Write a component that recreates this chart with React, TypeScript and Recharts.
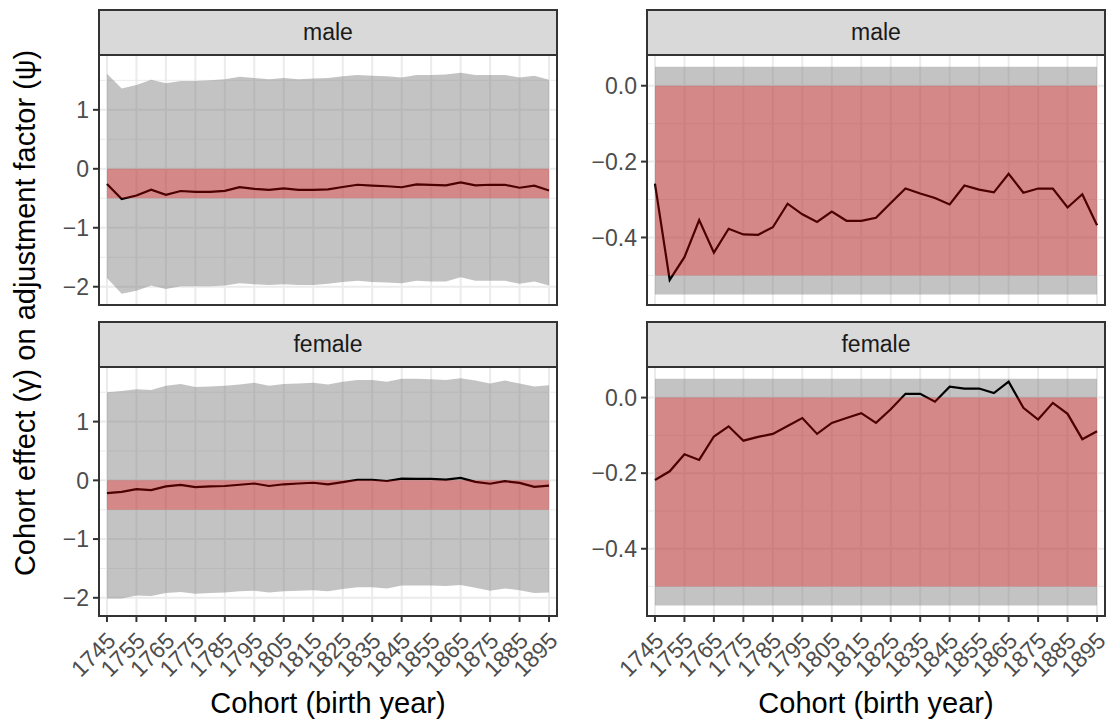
import { ComposedChart, Area, Line, XAxis, YAxis, CartesianGrid } from 'recharts'

const FONT = '"Liberation Sans", Arial, Helvetica, sans-serif'

// cohort birth years (every 5 years)
const cohorts = [
  1745, 1750, 1755, 1760, 1765, 1770, 1775, 1780, 1785, 1790, 1795,
  1800, 1805, 1810, 1815, 1820, 1825, 1830, 1835, 1840, 1845, 1850,
  1855, 1860, 1865, 1870, 1875, 1880, 1885, 1890, 1895,
]

const maleEffect = [
  -0.258, -0.512, -0.452, -0.354, -0.44, -0.377, -0.392, -0.393, -0.373, -0.311, -0.339,
  -0.359, -0.332, -0.356, -0.356, -0.348, -0.309, -0.271, -0.284, -0.296, -0.313, -0.263,
  -0.274, -0.281, -0.232, -0.282, -0.271, -0.271, -0.321, -0.286, -0.368,
]
const maleUpper = [
  1.61, 1.36, 1.42, 1.51, 1.45, 1.49, 1.49, 1.5, 1.52, 1.56, 1.54,
  1.52, 1.54, 1.52, 1.53, 1.54, 1.57, 1.59, 1.58, 1.57, 1.55, 1.59,
  1.59, 1.6, 1.63, 1.59, 1.59, 1.59, 1.55, 1.58, 1.51,
]
const maleLower = [
  -1.85, -2.12, -2.07, -1.98, -2.04, -1.99, -1.99, -1.99, -1.98, -1.94, -1.96,
  -1.97, -1.96, -1.97, -1.97, -1.95, -1.92, -1.9, -1.92, -1.93, -1.94, -1.9,
  -1.91, -1.91, -1.84, -1.9, -1.9, -1.9, -1.95, -1.91, -1.98,
]

const femaleEffect = [
  -0.218, -0.195, -0.15, -0.165, -0.103, -0.076, -0.114, -0.104, -0.096, -0.075, -0.054,
  -0.096, -0.067, -0.054, -0.041, -0.067, -0.031, 0.01, 0.01, -0.011, 0.029, 0.024,
  0.024, 0.012, 0.042, -0.027, -0.058, -0.014, -0.043, -0.11, -0.089,
]
const femaleUpper = [
  1.5, 1.52, 1.55, 1.54, 1.61, 1.64, 1.59, 1.6, 1.61, 1.63, 1.66,
  1.61, 1.64, 1.65, 1.66, 1.63, 1.68, 1.71, 1.71, 1.68, 1.73, 1.73,
  1.72, 1.71, 1.74, 1.7, 1.65, 1.7, 1.65, 1.6, 1.62,
]
const femaleLower = [
  -2.01, -2.01, -1.96, -1.97, -1.92, -1.9, -1.93, -1.92, -1.91, -1.89, -1.88,
  -1.91, -1.89, -1.88, -1.87, -1.89, -1.85, -1.82, -1.82, -1.84, -1.79, -1.79,
  -1.79, -1.8, -1.78, -1.83, -1.88, -1.84, -1.87, -1.92, -1.91,
]

// constant bands
const redBand = [-0.5, 0]
const greyBand = [-0.55, 0.05]

// axes
const xTicks = [1745, 1755, 1765, 1775, 1785, 1795, 1805, 1815, 1825, 1835, 1845, 1855, 1865, 1875, 1885, 1895]
const xDomain = [1742.3, 1897.7]
const wideTicks = [-2, -1, 0, 1]
const wideMinor = [-1.5, -0.5, 0.5, 1.5]
const wideDomain = [-2.31, 1.93]
const zoomTicks = [-0.4, -0.2, 0]
const zoomMinor = [-0.5, -0.3, -0.1]
const zoomDomain = [-0.578, 0.081]

const makeRows = (eff: number[], lo: number[], hi: number[], wide: boolean) =>
  cohorts.map((c, i) => ({
    cohort: c,
    effect: eff[i],
    grey: wide ? [lo[i], hi[i]] : greyBand,
    red: redBand,
  }))

const minus = (s: string) => s.replace('-', '\u2212')

function YearTick({ x, y, payload }: any) {
  return (
    <text
      x={x}
      y={y}
      dy="0.62em"
      transform={`rotate(-45, ${x}, ${y})`}
      textAnchor="end"
      fill="#4D4D4D"
      fontSize={23}
      fontFamily={FONT}
    >
      {payload.value}
    </text>
  )
}

interface PanelProps {
  label: string
  plotLeft: number
  plotTop: number
  plotW: number
  plotH: number
  axisW: number
  rows: any[]
  wide: boolean
  showX: boolean
}

const RIGHT_PAD = 20

function Panel({ label, plotLeft, plotTop, plotW, plotH, axisW, rows, wide, showX }: PanelProps) {
  const xH = showX ? 95 : 0
  const chartW = axisW + plotW + RIGHT_PAD
  const chartH = plotH + xH
  const ticks = wide ? wideTicks : zoomTicks
  const minor = wide ? wideMinor : zoomMinor
  const domain = wide ? wideDomain : zoomDomain
  const fmt = (v: number) => minus(wide ? String(v) : v.toFixed(1))

  return (
    <>
      <div style={{ position: 'absolute', left: plotLeft - axisW, top: plotTop }}>
        <ComposedChart
          width={chartW}
          height={chartH}
          data={rows}
          margin={{ top: 0, right: RIGHT_PAD, bottom: 0, left: 0 }}
        >
          <CartesianGrid horizontalValues={minor} vertical={false} stroke="#EBEBEB" strokeWidth={1} />
          <CartesianGrid horizontalValues={ticks} verticalValues={xTicks} stroke="#EBEBEB" strokeWidth={2} />
          <XAxis
            dataKey="cohort"
            type="number"
            domain={xDomain}
            ticks={xTicks}
            allowDataOverflow
            hide={!showX}
            height={xH}
            axisLine={false}
            tickLine={{ stroke: '#333333', strokeWidth: 2 }}
            tickSize={6}
            tickMargin={10}
            interval={0}
            tick={<YearTick />}
          />
          <YAxis
            type="number"
            domain={domain}
            ticks={ticks}
            allowDataOverflow
            width={axisW}
            axisLine={false}
            tickLine={{ stroke: '#333333', strokeWidth: 2 }}
            tickSize={6}
            tickMargin={4}
            tickFormatter={fmt}
            tick={{ fill: '#4D4D4D', fontSize: 23, fontFamily: FONT }}
          />
          <Area
            type="linear"
            dataKey="grey"
            stroke="none"
            fill="#808080"
            fillOpacity={0.47}
            isAnimationActive={false}
            activeDot={false}
          />
          <Line
            type="linear"
            dataKey="effect"
            stroke="#000000"
            strokeWidth={2.2}
            dot={false}
            activeDot={false}
            isAnimationActive={false}
          />
          <Area
            type="linear"
            dataKey="red"
            stroke="none"
            fill="#FF0000"
            fillOpacity={0.3}
            isAnimationActive={false}
            activeDot={false}
            zIndex={450}
          />
        </ComposedChart>
      </div>
      {/* panel border */}
      <div
        style={{
          position: 'absolute',
          left: plotLeft - 1,
          top: plotTop - 1,
          width: plotW + 2,
          height: plotH + 2,
          border: '2px solid #333333',
          boxSizing: 'border-box',
          pointerEvents: 'none',
        }}
      />
      {/* strip */}
      <div
        style={{
          position: 'absolute',
          left: plotLeft - 1,
          top: plotTop - 46,
          width: plotW + 2,
          height: 47,
          border: '2px solid #333333',
          boxSizing: 'border-box',
          background: '#D9D9D9',
          display: 'flex',
          alignItems: 'center',
          justifyContent: 'center',
          fontFamily: FONT,
          fontSize: 23,
          color: '#1A1A1A',
        }}
      >
        {label}
      </div>
    </>
  )
}

export default function App() {
  const maleWide = makeRows(maleEffect, maleLower, maleUpper, true)
  const femaleWide = makeRows(femaleEffect, femaleLower, femaleUpper, true)
  const maleZoom = makeRows(maleEffect, maleLower, maleUpper, false)
  const femaleZoom = makeRows(femaleEffect, femaleLower, femaleUpper, false)

  return (
    <div style={{ position: 'absolute', left: 0, top: 0, width: 1110, height: 723, background: '#fff', overflow: 'hidden' }}>
      <Panel label="male" plotLeft={99} plotTop={55} plotW={458} plotH={250} axisW={99} rows={maleWide} wide showX={false} />
      <Panel label="female" plotLeft={99} plotTop={367} plotW={458} plotH={249} axisW={99} rows={femaleWide} wide showX />
      <Panel label="male" plotLeft={647} plotTop={55} plotW={458} plotH={250} axisW={87} rows={maleZoom} wide={false} showX={false} />
      <Panel label="female" plotLeft={647} plotTop={367} plotW={458} plotH={249} axisW={87} rows={femaleZoom} wide={false} showX />

      <svg width={1110} height={723} style={{ position: 'absolute', left: 0, top: 0, pointerEvents: 'none' }}>
        <text x={328} y={713} textAnchor="middle" fontSize={29} fontFamily={FONT} fill="#000">
          Cohort (birth year)
        </text>
        <text x={876} y={713} textAnchor="middle" fontSize={29} fontFamily={FONT} fill="#000">
          Cohort (birth year)
        </text>
        <text
          x={35}
          y={313}
          textAnchor="middle"
          fontSize={29}
          fontFamily={FONT}
          fill="#000"
          transform="rotate(-90, 35, 313)"
        >
          Cohort effect (γ) on adjustment factor (ψ)
        </text>
      </svg>
    </div>
  )
}
